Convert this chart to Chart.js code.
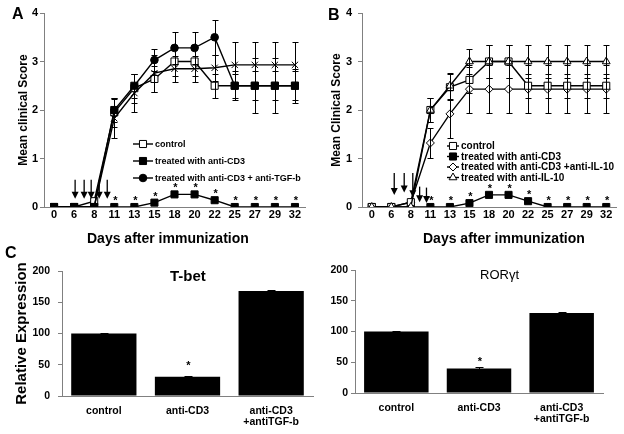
<!DOCTYPE html>
<html>
<head>
<meta charset="utf-8">
<script src="https://cdn.jsdelivr.net/npm/chart.js@4.4.0/dist/chart.umd.min.js"></script>
<style>
  body { margin: 0; background: #fff; }
  #wrap { position: relative; width: 624px; height: 434px; overflow: hidden; font-family: 'Liberation Sans', Arial, sans-serif; }
  canvas { position: absolute; }
  .lbl { position: absolute; color: #000; white-space: nowrap; line-height: 1; }
</style>
</head>
<body>
<div id="wrap">
  <canvas id="chartA" width="312" height="250" style="left:0;top:0"></canvas>
  <canvas id="chartB" width="312" height="250" style="left:312px;top:0"></canvas>
  <canvas id="chartTbet" width="320" height="184" style="left:0;top:250px"></canvas>
  <canvas id="chartRor" width="304" height="184" style="left:320px;top:250px"></canvas>

  <div class="lbl" style="left:12px;top:6px;font-size:16px;font-weight:bold">A</div>
  <div class="lbl" style="left:328px;top:7px;font-size:16px;font-weight:bold">B</div>
  <div class="lbl" style="left:5px;top:245px;font-size:16px;font-weight:bold">C</div>
  <div class="lbl" style="left:87px;top:231px;font-size:14px;font-weight:bold">Days after immunization</div>
  <div class="lbl" style="left:423px;top:231px;font-size:14px;font-weight:bold">Days after immunization</div>
  <div class="lbl" style="left:170px;top:268px;font-size:15px;font-weight:bold">T-bet</div>
  <div class="lbl" style="left:480px;top:268px;font-size:13px">RORγt</div>
</div>

<script>
// jours apres immunisation
const days = ['0', '6', '8', '11', '13', '15', '18', '20', '22', '25', '27', '29', '32'];
const starsDays = [false, false, false, true, true, true, true, true, true, true, true, true, true];

// panneau A
const aControl     = [0, 0, 0.12, 1.95, 2.45, 2.64, 3.0, 3.0, 2.5, 2.5, 2.5, 2.5, 2.5];
const aControlErr  = [0, 0, 0, 0.3, 0.3, 0.27, 0.3, 0.3, 0.25, 0.3, 0.3, 0.3, 0.3];
const aAntiCD3     = [0, 0, 0, 0, 0, 0.09, 0.26, 0.26, 0.14, 0, 0, 0, 0];
const aAntiTGFb    = [0, 0, 0, 2.0, 2.5, 3.03, 3.28, 3.28, 3.5, 2.5, 2.5, 2.5, 2.5];
const aAntiTGFbErr = [0, 0, 0, 0.25, 0.25, 0.23, 0.33, 0.33, 0.36, 0.25, 0.57, 0.57, 0.35];
const aOther       = [0, 0, 0, 1.83, 2.35, 2.76, 2.85, 2.85, 2.87, 2.93, 2.93, 2.93, 2.93];
const aOtherErr    = [0, 0, 0, 0.4, 0.4, 0.38, 0.27, 0.27, 0.27, 0.47, 0.47, 0.47, 0.47];
// fleches (injections), en position d'index de categorie
const aArrowAt   = [1.05, 1.5, 1.85, 2.25, 2.65];
const aArrowFrom = [0.56, 0.56, 0.56, 0.56, 0.56];
const aArrowTo   = [0.17, 0.17, 0.17, 0.17, 0.17];

// panneau B
const bControl    = [0, 0, 0.1, 2.0, 2.47, 2.62, 3.0, 3.0, 2.5, 2.5, 2.5, 2.5, 2.5];
const bControlErr = [0, 0, 0, 0.25, 0.27, 0.27, 0.35, 0.35, 0.25, 0.25, 0.25, 0.25, 0.25];
const bAntiCD3    = [0, 0, 0, 0, 0, 0.08, 0.25, 0.25, 0.12, 0, 0, 0, 0];
const bAntiIL10CD3    = [0, 0, 0.1, 1.32, 1.92, 2.43, 2.43, 2.43, 2.43, 2.43, 2.43, 2.43, 2.43];
const bAntiIL10CD3Err = [0, 0, 0, 0.3, 0.5, 0.49, 0.49, 0.49, 0.49, 0.49, 0.49, 0.49, 0.49];
const bAntiIL10    = [0, 0, 0, 2.0, 2.5, 3.0, 3.0, 3.0, 3.0, 3.0, 3.0, 3.0, 3.0];
const bAntiIL10Err = [0, 0, 0, 0.25, 0.27, 0.25, 0.35, 0.35, 0.35, 0.35, 0.35, 0.35, 0.35];
const bArrowAt   = [1.15, 1.66, 2.1, 2.45, 2.8];
const bArrowFrom = [0.7, 0.7, 0.7, 0.42, 0.4];
const bArrowTo   = [0.25, 0.3, 0.2, 0.1, 0.08];

// panneau C
const groups = ['control', 'anti-CD3', ['anti-CD3', '+antiTGF-b']];
const tbet = [100, 31, 168];
const tbetErr = [1, 1.5, 2];
const ror = [100, 40, 130];
const rorErr = [1, 1.5, 1.5];
const barStars = [false, true, false];

Chart.defaults.font.family = "'Liberation Sans', Arial, sans-serif";
Chart.defaults.color = '#000';
Chart.defaults.animation = false;

const AXIS = '#808080';

function drawMarker(ctx, style, r, x, y) {
    ctx.beginPath();
    if (style === 'circle') {
        ctx.arc(x, y, r, 0, Math.PI * 2);
    } else if (style === 'rect') {
        const s = r * Math.SQRT1_2;
        ctx.rect(x - s, y - s, 2 * s, 2 * s);
    } else if (style === 'rectRot') {
        ctx.moveTo(x, y - r); ctx.lineTo(x + r, y); ctx.lineTo(x, y + r); ctx.lineTo(x - r, y);
        ctx.closePath();
    } else if (style === 'triangle') {
        ctx.moveTo(x, y - r);
        ctx.lineTo(x + 0.866 * r, y + 0.5 * r);
        ctx.lineTo(x - 0.866 * r, y + 0.5 * r);
        ctx.closePath();
    }
    ctx.fill();
    ctx.stroke();
}

// barres d'erreur
const errorBars = {
    id: 'errorBars',
    afterDatasetsDraw(chart, args, opts) {
        const ctx = chart.ctx;
        const yScale = chart.scales.y;
        const cap = opts.cap || 3;
        chart.data.datasets.forEach((ds, i) => {
            if (!ds.errors) return;
            const meta = chart.getDatasetMeta(i);
            ctx.save();
            ctx.strokeStyle = '#000';
            ctx.lineWidth = 1;
            meta.data.forEach((pt, j) => {
                const e = ds.errors[j];
                if (!e) return;
                const v = ds.data[j];
                const x = Math.round(pt.x) + 0.5;
                const yTop = Math.round(yScale.getPixelForValue(v + e)) + 0.5;
                const yBot = Math.round(yScale.getPixelForValue(v - e)) + 0.5;
                ctx.beginPath();
                ctx.moveTo(x, yTop); ctx.lineTo(x, yBot);
                ctx.moveTo(x - cap, yTop); ctx.lineTo(x + cap, yTop);
                if (!opts.topOnly) { ctx.moveTo(x - cap, yBot); ctx.lineTo(x + cap, yBot); }
                ctx.stroke();
            });
            ctx.restore();
        });
    }
};

// asterisques
const starMarks = {
    id: 'starMarks',
    afterDatasetsDraw(chart, args, opts) {
        const ctx = chart.ctx;
        chart.data.datasets.forEach((ds, i) => {
            if (!ds.stars) return;
            const meta = chart.getDatasetMeta(i);
            ctx.save();
            ctx.font = 'bold 11px "Liberation Sans", Arial';
            ctx.fillStyle = '#000';
            ctx.textAlign = 'center';
            ctx.textBaseline = 'alphabetic';
            meta.data.forEach((pt, j) => {
                if (ds.stars[j]) ctx.fillText('*', pt.x + (opts.dx || 0), pt.y + (opts.dy || 0));
            });
            ctx.restore();
        });
    }
};

// fleches
const arrows = {
    id: 'arrows',
    afterDatasetsDraw(chart, args, opts) {
        if (!opts.at) return;
        const ctx = chart.ctx;
        const xs = chart.scales.x, ys = chart.scales.y;
        ctx.save();
        ctx.strokeStyle = '#000';
        ctx.fillStyle = '#000';
        ctx.lineWidth = 1.3;
        opts.at.forEach((a, k) => {
            const x = xs.getPixelForValue(a);
            const y0 = ys.getPixelForValue(opts.from[k]);
            const y1 = ys.getPixelForValue(opts.to[k]);
            ctx.beginPath();
            ctx.moveTo(x, y0); ctx.lineTo(x, y1 - 5);
            ctx.stroke();
            ctx.beginPath();
            ctx.moveTo(x - 3.5, y1 - 7); ctx.lineTo(x + 3.5, y1 - 7); ctx.lineTo(x, y1);
            ctx.closePath();
            ctx.fill();
        });
        ctx.restore();
    }
};

// legende dans la zone du graphique
const insideLegend = {
    id: 'insideLegend',
    afterDraw(chart, args, o) {
        if (!o.rows) return;
        const ctx = chart.ctx;
        ctx.save();
        ctx.font = o.font;
        ctx.textBaseline = 'middle';
        let row = 0;
        chart.data.datasets.forEach(ds => {
            if (!ds.label) return;
            const y = o.rows[row++];
            ctx.strokeStyle = '#000';
            ctx.lineWidth = 1.4;
            ctx.beginPath();
            ctx.moveTo(o.x0, y); ctx.lineTo(o.x1, y);
            ctx.stroke();
            ctx.lineWidth = 1;
            ctx.fillStyle = ds.pointBackgroundColor;
            drawMarker(ctx, ds.legendStyle, ds.legendRadius, (o.x0 + o.x1) / 2, y);
            ctx.fillStyle = '#000';
            ctx.fillText(ds.label, o.tx, y + 0.5);
        });
        ctx.restore();
    }
};

function lineDs(label, data, fill, style, radius, extra) {
    return Object.assign({
        label: label,
        data: data,
        borderColor: '#000',
        borderWidth: 1.4,
        pointStyle: style,
        pointRadius: radius,
        pointBorderColor: '#000',
        pointBorderWidth: 1,
        pointBackgroundColor: fill,
        backgroundColor: fill,
        legendStyle: style,
        legendRadius: radius,
        tension: 0
    }, extra || {});
}

function lineOptions(cfg) {
    return {
        responsive: false,
        events: [],
        layout: { padding: { top: 13, right: cfg.padRight, left: 0, bottom: 0 } },
        plugins: {
            legend: { display: false },
            tooltip: { enabled: false },
            errorBars: { cap: 3 },
            starMarks: { dx: 1, dy: -3 },
            arrows: cfg.arrows,
            insideLegend: cfg.legend
        },
        scales: {
            x: {
                offset: true,
                grid: { display: false, drawTicks: false },
                border: { color: AXIS },
                ticks: { padding: 1, autoSkip: false, maxRotation: 0, font: { size: 11, weight: 'bold' } },
                afterFit(s) { s.height = 43; }
            },
            y: {
                min: 0, max: 4,
                ticks: { stepSize: 1, padding: cfg.tickPad, font: { size: 11, weight: 'bold' } },
                grid: { drawOnChartArea: false, tickLength: 4, color: AXIS },
                border: { color: AXIS },
                title: { display: true, text: cfg.yTitle, font: { size: 12, weight: 'bold' }, padding: { top: cfg.titlePad } },
                afterFit(s) { s.width = cfg.yWidth; }
            }
        }
    };
}

new Chart(document.getElementById('chartA'), {
    type: 'line',
    data: {
        labels: days,
        datasets: [
            lineDs('control', aControl, '#fff', 'rect', 5, { errors: aControlErr, order: 3 }),
            lineDs('treated with anti-CD3', aAntiCD3, '#000', 'rect', 5, { stars: starsDays, order: 0 }),
            lineDs('treated with anti-CD3 + anti-TGF-b', aAntiTGFb, '#000',
                ['rect', 'rect', 'rect', 'rect', 'rect', 'circle', 'circle', 'circle', 'circle', 'rect', 'rect', 'rect', 'rect'],
                [5, 5, 5, 5, 5, 3.8, 3.8, 3.8, 3.8, 5, 5, 5, 5],
                { errors: aAntiTGFbErr, order: 1, legendStyle: 'circle', legendRadius: 3.8 }),
            lineDs('', aOther, '#fff', 'crossRot', [0, 0, 0, 4.5, 4.5, 4.5, 4.5, 4.5, 4.5, 4.5, 4.5, 4.5, 4.5], { errors: aOtherErr, order: 2 })
        ]
    },
    options: lineOptions({
        padRight: 7, yWidth: 44, tickPad: 2, titlePad: 16, yTitle: 'Mean clinical Score',
        arrows: { at: aArrowAt, from: aArrowFrom, to: aArrowTo },
        legend: { x0: 133, x1: 153, tx: 155, rows: [144, 161, 178], font: 'bold 9px "Liberation Sans", Arial' }
    }),
    plugins: [errorBars, starMarks, arrows, insideLegend]
});

new Chart(document.getElementById('chartB'), {
    type: 'line',
    data: {
        labels: days,
        datasets: [
            lineDs('control', bControl, '#fff', 'rect', 5, { errors: bControlErr, order: 1 }),
            lineDs('treated with anti-CD3', bAntiCD3, '#000', 'rect', 5, { stars: starsDays, order: 3 }),
            lineDs('treated with anti-CD3 +anti-IL-10', bAntiIL10CD3, '#fff', 'rectRot', 4, { errors: bAntiIL10CD3Err, order: 2 }),
            lineDs('treated with anti-IL-10', bAntiIL10, '#fff', 'triangle', 4.5, { errors: bAntiIL10Err, order: 0 })
        ]
    },
    options: lineOptions({
        padRight: 8, yWidth: 50, tickPad: 6, titlePad: 17, yTitle: 'Mean Clinical Score',
        arrows: { at: bArrowAt, from: bArrowFrom, to: bArrowTo },
        legend: { x0: 135, x1: 147, tx: 149, rows: [146, 156.5, 167, 177.5], font: 'bold 10px "Liberation Sans", Arial' }
    }),
    plugins: [errorBars, starMarks, arrows, insideLegend]
});

function barOptions(cfg) {
    return {
        responsive: false,
        events: [],
        layout: { padding: { top: cfg.padTop, right: cfg.padRight, left: 0, bottom: 0 } },
        plugins: {
            legend: { display: false },
            tooltip: { enabled: false },
            errorBars: { cap: 4, topOnly: true },
            starMarks: { dx: 1, dy: cfg.starDy }
        },
        scales: {
            x: {
                grid: { display: false, drawTicks: false },
                border: { color: AXIS },
                ticks: { padding: 9, autoSkip: false, maxRotation: 0, font: { size: 10.5, weight: 'bold', lineHeight: 1.1 } },
                afterFit(s) { s.height = cfg.xHeight; }
            },
            y: {
                min: 0, max: 200,
                ticks: { stepSize: 50, padding: cfg.tickPad, font: { size: 10.5, weight: 'bold' } },
                grid: { drawOnChartArea: false, tickLength: 4, color: AXIS },
                border: { color: AXIS },
                title: cfg.yTitle ? { display: true, text: cfg.yTitle, font: { size: 15, weight: 'bold' }, padding: { top: 13 } } : { display: false },
                afterFit(s) { s.width = cfg.yWidth; }
            }
        }
    };
}

new Chart(document.getElementById('chartTbet'), {
    type: 'bar',
    data: {
        labels: groups,
        datasets: [{
            label: 'T-bet',
            data: tbet,
            errors: tbetErr,
            stars: barStars,
            backgroundColor: '#000',
            barPercentage: 0.78,
            categoryPercentage: 1
        }]
    },
    options: barOptions({ padTop: 21, padRight: 7, xHeight: 38, yWidth: 62, tickPad: 8, starDy: -8, yTitle: 'Relative Expression' }),
    plugins: [errorBars, starMarks]
});

new Chart(document.getElementById('chartRor'), {
    type: 'bar',
    data: {
        labels: groups,
        datasets: [{
            label: 'RORγt',
            data: ror,
            errors: rorErr,
            stars: barStars,
            backgroundColor: '#000',
            barPercentage: 0.78,
            categoryPercentage: 1
        }]
    },
    options: barOptions({ padTop: 20, padRight: 21, xHeight: 41, yWidth: 35, tickPad: 3, starDy: -3 }),
    plugins: [errorBars, starMarks]
});
</script>
</body>
</html>
